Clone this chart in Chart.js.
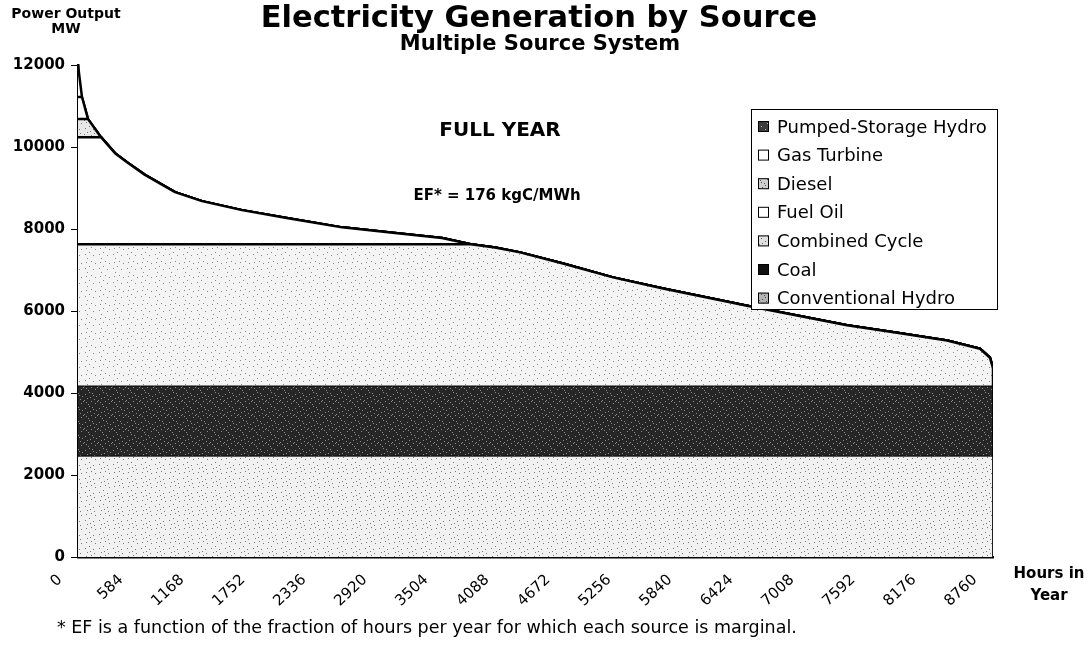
<!DOCTYPE html>
<html><head><meta charset="utf-8">
<script src="https://cdn.jsdelivr.net/npm/chart.js@4.4.1/dist/chart.umd.min.js"></script>
<style>html,body{margin:0;padding:0;background:#fff;overflow:hidden}</style>
</head><body>
<canvas id="c" width="1089" height="651"></canvas>
<script>
// ---- data ----
const hours  = [0, 38, 96, 220, 354, 479, 641, 929, 1187, 1570, 2011, 2528, 3035, 3485, 3760, 3992, 4232, 4643, 5122, 5601, 6079, 6405, 6884, 7362, 7841, 8320, 8636, 8731, 8760, 8760];
const loadMW = [12000, 11220, 10680, 10240, 9850, 9610, 9320, 8900, 8680, 8460, 8260, 8040, 7900, 7780, 7630, 7550, 7430, 7160, 6820, 6550, 6300, 6130, 5890, 5650, 5470, 5280, 5080, 4860, 4600, 0];
const sources = ['Conventional Hydro', 'Coal', 'Combined Cycle', 'Fuel Oil', 'Diesel', 'Gas Turbine', 'Pumped-Storage Hydro'];
const capacityTopMW = [2460, 4170, 7630, 10240, 10680, 11220, 12000];
const xTickHours = [0, 584, 1168, 1752, 2336, 2920, 3504, 4088, 4672, 5256, 5840, 6424, 7008, 7592, 8176, 8760];
const yTickMW = [0, 2000, 4000, 6000, 8000, 10000, 12000];

// ---- styles ----
const FONT = '"DejaVu Sans", sans-serif';
const DOTS = [[1,2],[5,0],[9,3],[3,6],[7,9],[11,11],[2,10],[6,5],[10,7],[0,8],[8,1],[4,12],[12,4],[13,9]];
function stipple(base, dot, n) {
  const c = document.createElement('canvas');
  c.width = 14; c.height = 14;
  const g = c.getContext('2d');
  g.fillStyle = base; g.fillRect(0, 0, 14, 14);
  g.fillStyle = dot;
  DOTS.slice(0, n).forEach(([x, y]) => g.fillRect(x, y, 1, 1));
  return document.getElementById('c').getContext('2d').createPattern(c, 'repeat');
}
const pHydro = stipple('#f1f1f1', '#7a7a7a', 9);
const pCoal = stipple('#262626', '#8c8c8c', 14);
const pComb = stipple('#f4f4f4', '#8a8a8a', 7);
const pDiesel = stipple('#e8e8e8', '#777777', 10);
const fillColors = [pHydro, pCoal, pComb, '#ffffff', pDiesel, '#ffffff', '#ffffff'];
const legendColors = [stipple('#b4b4b4', '#505050', 14), '#111111', stipple('#e0e0e0', '#666666', 8), '#ffffff', stipple('#cfcfcf', '#555555', 14), '#ffffff', stipple('#3c3c3c', '#bdbdbd', 6)];
const lineWidths = [1, 1, 2.5, 2.5, 2.5, 2.5, 2.5];

const datasets = sources.map((name, k) => ({
  label: name,
  data: hours.map((h, i) => ({ x: h, y: Math.min(loadMW[i], capacityTopMW[k]) })),
  fill: k === 0 ? 'origin' : '-1',
  backgroundColor: fillColors[k],
  borderColor: '#000',
  borderWidth: lineWidths[k],
  pointRadius: 0,
  tension: 0,
  borderJoinStyle: 'round'
}));

const textPlugin = {
  id: 'texts',
  afterDraw(chart) {
    const ctx = chart.ctx;
    ctx.save();
    ctx.fillStyle = '#000';
    const t = (s, x, y, size, bold, align) => {
      ctx.font = (bold ? 'bold ' : '') + size + 'px ' + FONT;
      ctx.textAlign = align || 'center';
      ctx.textBaseline = 'middle';
      ctx.fillText(s, x, y);
    };
    t('Electricity Generation by Source', 539, 19, 30.5, true);
    t('Multiple Source System', 540, 45, 21, true);
    t('Power Output', 66, 14, 14, true);
    t('MW', 66, 29, 14, true);
    t('FULL YEAR', 500, 131, 20, true);
    t('EF* = 176 kgC/MWh', 497, 196, 15, true);
    t('Hours in', 1049, 574, 15, true);
    t('Year', 1049, 596, 15, true);
    t('* EF is a function of the fraction of hours per year for which each source is marginal.', 57, 628, 17.5, false, 'left');

    // legend box
    const lx = 751, ly = 109, lw = 246, lh = 200;
    ctx.fillStyle = '#fff';
    ctx.fillRect(lx, ly, lw, lh);
    ctx.strokeStyle = '#000';
    ctx.lineWidth = 1;
    ctx.strokeRect(lx + 0.5, ly + 0.5, lw, lh);
    const order = [6, 5, 4, 3, 2, 1, 0];
    order.forEach((k, r) => {
      const cy = 127 + r * 28.6;
      ctx.fillStyle = legendColors[k];
      ctx.fillRect(758, cy - 6, 11, 11);
      ctx.strokeStyle = '#000';
      ctx.strokeRect(758.5, cy - 5.5, 10, 10);
      ctx.fillStyle = '#000';
      t(sources[k], 777, cy + 1, 18, false, 'left');
    });
    ctx.restore();
  }
};

new Chart(document.getElementById('c'), {
  type: 'line',
  data: { datasets },
  options: {
    responsive: false,
    animation: false,
    devicePixelRatio: 1,
    layout: { padding: { left: 0, top: 65, right: 96, bottom: 0 } },
    plugins: { legend: { display: false }, tooltip: { enabled: false }, title: { display: false } },
    scales: {
      x: {
        type: 'linear', min: 0, max: 8760,
        afterBuildTicks: s => { s.ticks = xTickHours.map(v => ({ value: v })); },
        afterFit: s => { s.height = 94; },
        ticks: {
          autoSkip: false, minRotation: 43, maxRotation: 43,
          labelOffset: -18, padding: 14,
          color: '#000', font: { family: FONT, size: 15 },
          callback: v => String(v)
        },
        grid: { display: true, drawOnChartArea: false, drawTicks: false },
        border: { display: true, color: '#000', width: 2.5 }
      },
      y: {
        min: 0, max: 12000,
        afterBuildTicks: s => { s.ticks = yTickMW.map(v => ({ value: v })); },
        afterFit: s => { s.width = 78; },
        ticks: { color: '#000', padding: 6, font: { family: FONT, size: 15, weight: 'bold' }, callback: v => String(v) },
        grid: { display: true, drawOnChartArea: false, drawTicks: true, tickLength: 7, color: '#000', lineWidth: 1 },
        border: { display: true, color: '#000', width: 2.5 }
      }
    }
  },
  plugins: [textPlugin]
});
</script>
</body></html>
